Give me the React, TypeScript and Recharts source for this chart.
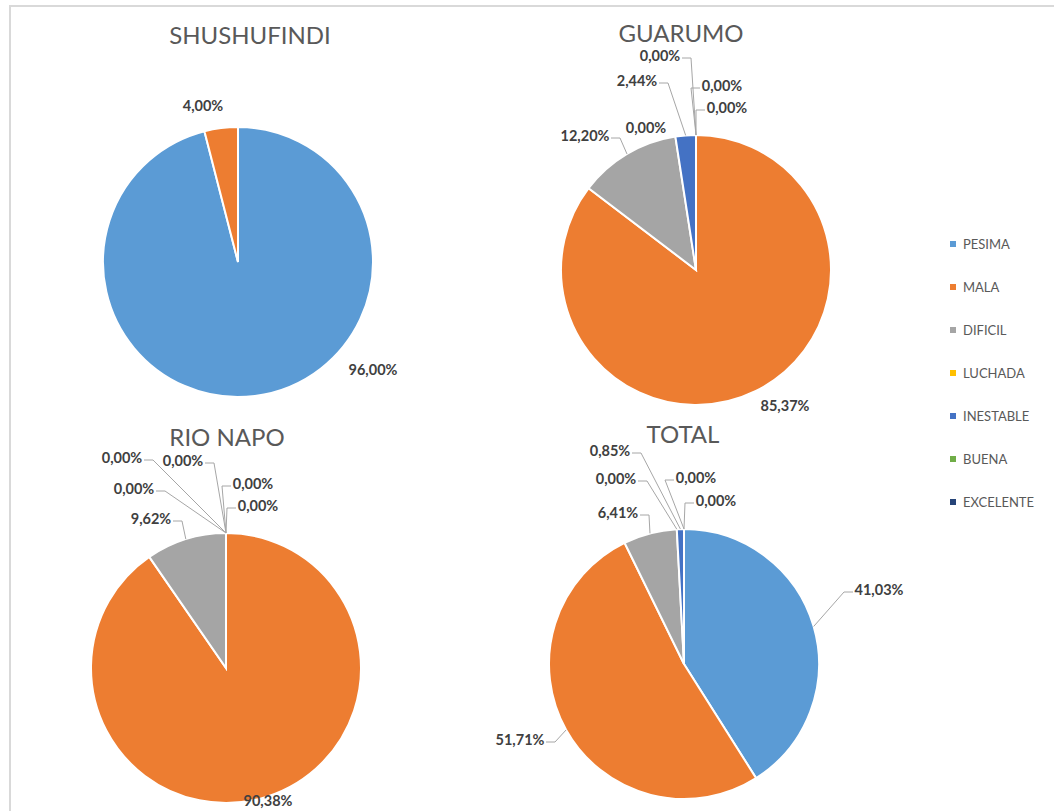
import { PieChart, Pie, Cell } from 'recharts';

const categories = ['PESIMA', 'MALA', 'DIFICIL', 'LUCHADA', 'INESTABLE', 'BUENA', 'EXCELENTE'];
const colors = ['#5B9BD5', '#ED7D31', '#A5A5A5', '#FFC000', '#4472C4', '#70AD47', '#264478'];

const shushufindi = [96.0, 4.0, 0, 0, 0, 0, 0];
const guarumo = [0, 85.37, 12.2, 0, 2.44, 0, 0];
const rioNapo = [0, 90.38, 9.62, 0, 0, 0, 0];
const total = [41.03, 51.71, 6.41, 0, 0.85, 0, 0];

const titles = ['SHUSHUFINDI', 'GUARUMO', 'RIO NAPO', 'TOTAL'];

// label placement: text centre offset from the pie centre, and which side the leader line leaves from
type Place = [number, number, 'L' | 'R' | ''] | null;
const shushufindiPlaces: Place[] = [[135, 107, ''], [-35, -157, ''], null, null, null, null, null];
const guarumoPlaces: Place[] = [
  [31, -163, 'L'], [89, 135, ''], [-111, -135, 'R'], [-50, -143, ''],
  [-59, -190, 'R'], [-36, -215, 'R'], [26, -185, 'L'],
];
const rioNapoPlaces: Place[] = [
  [32, -163, 'L'], [42, 132, ''], [-75, -150, 'R'], [-92, -180, 'R'],
  [-104, -211, 'R'], [-43, -208, 'R'], [27, -185, 'L'],
];
const totalPlaces: Place[] = [
  [195, -75, 'L'], [-164, 75, 'R'], [-66, -152, 'R'], [-68, -186, 'R'],
  [-74, -214, 'R'], [12, -187, 'L'], [32, -164, 'L'],
];

const RAD = Math.PI / 180;
const fmt = (v: number) => v.toFixed(2).replace('.', ',') + '%';

const toRows = (values: number[]) => categories.map((name, i) => ({ name, value: values[i] }));

function makeLabel(places: Place[]) {
  return (props: any) => {
    const { cx, cy, midAngle, outerRadius, index, value } = props;
    const place = places[index];
    if (!place) return null;
    const [dx, dy, side] = place;
    const tx = cx + dx;
    const ty = cy + dy;
    const text = fmt(value);
    let line = null;
    if (side) {
      const ax = cx + outerRadius * Math.cos(-midAngle * RAD);
      const ay = cy + outerRadius * Math.sin(-midAngle * RAD);
      const half = text.length * 4 + 2;
      const ex = side === 'R' ? tx + half : tx - half;
      const kx = side === 'R' ? ex + 9 : ex - 9;
      const ly = ty + 3;
      line = (
        <polyline
          points={`${ex},${ly} ${kx},${ly} ${ax},${ay}`}
          fill="none"
          stroke="#A6A6A6"
          strokeWidth={1}
        />
      );
    }
    return (
      <g>
        {line}
        <text
          x={tx}
          y={ty}
          textAnchor="middle"
          dominantBaseline="central"
          fontFamily="Lato, 'Open Sans', sans-serif"
          fontWeight={700}
          fontSize={14.5}
          fill="#404040"
        >
          {text}
        </text>
      </g>
    );
  };
}

const pies = [
  { key: 'shu', values: shushufindi, places: shushufindiPlaces, cx: 238, cy: 262, tx: 250, ty: 35 },
  { key: 'gua', values: guarumo, places: guarumoPlaces, cx: 696, cy: 270, tx: 681, ty: 33 },
  { key: 'rio', values: rioNapo, places: rioNapoPlaces, cx: 226, cy: 668, tx: 227, ty: 437 },
  { key: 'tot', values: total, places: totalPlaces, cx: 684, cy: 664, tx: 683, ty: 434 },
];

export default function App() {
  return (
    <div
      style={{
        position: 'absolute',
        left: 0,
        top: 0,
        width: 1054,
        height: 811,
        overflow: 'hidden',
        background: '#fff',
      }}
    >
      <div
        style={{
          position: 'absolute',
          left: 9,
          top: 5,
          width: 1100,
          height: 900,
          borderTop: '2px solid #D9D9D9',
          borderLeft: '2px solid #D9D9D9',
        }}
      />
      <PieChart
        width={1054}
        height={811}
        margin={{ top: 0, right: 0, bottom: 0, left: 0 }}
        style={{ position: 'absolute', left: 0, top: 0 }}
      >
        {pies.map((p) => (
          <Pie
            key={p.key}
            data={toRows(p.values)}
            dataKey="value"
            nameKey="name"
            cx={p.cx}
            cy={p.cy}
            outerRadius={135}
            startAngle={90}
            endAngle={-270}
            stroke="#fff"
            strokeWidth={2}
            labelLine={false}
            label={makeLabel(p.places)}
            isAnimationActive={false}
          >
            {categories.map((c, i) => (
              <Cell key={c} fill={colors[i]} />
            ))}
          </Pie>
        ))}
      </PieChart>
      {pies.map((p, i) => (
        <div
          key={p.key + '-t'}
          style={{
            position: 'absolute',
            left: p.tx - 150,
            top: p.ty - 14,
            width: 300,
            textAlign: 'center',
            fontFamily: "Lato, 'Open Sans', sans-serif",
            fontSize: 24,
            lineHeight: '28px',
            color: '#595959',
          }}
        >
          {titles[i]}
        </div>
      ))}
      <div style={{ position: 'absolute', left: 950, top: 222 }}>
        {categories.map((c, i) => (
          <div
            key={c}
            style={{
              display: 'flex',
              alignItems: 'center',
              height: 43,
              fontFamily: "Lato, 'Open Sans', sans-serif",
              fontSize: 13,
              color: '#595959',
            }}
          >
            <span
              style={{ width: 6, height: 6, background: colors[i], display: 'inline-block', marginRight: 7 }}
            />
            {c}
          </div>
        ))}
      </div>
    </div>
  );
}
